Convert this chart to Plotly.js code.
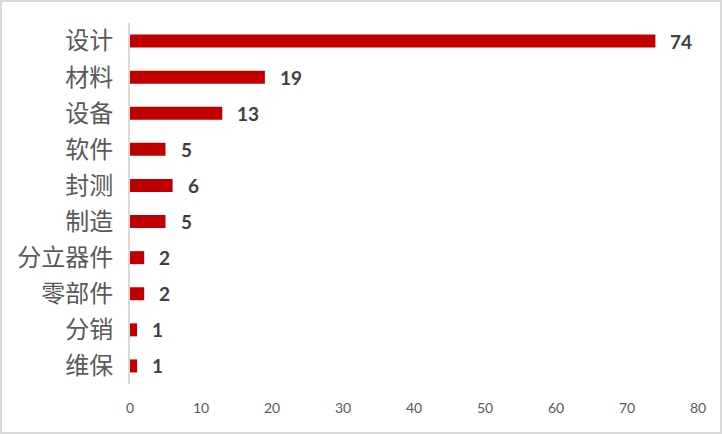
<!DOCTYPE html>
<html><head><meta charset="utf-8">
<script src="https://cdn.plot.ly/plotly-3.0.1.min.js"></script>
<style>
html,body{margin:0;padding:0;background:#fff;}
#wrap{width:722px;height:434px;box-sizing:border-box;border:2px solid #d9d9d9;overflow:hidden;}
#chart{width:718px;height:430px;}
</style></head>
<body><div id="wrap"><div id="chart"></div></div>
<script>
const categories = ["设计","材料","设备","软件","封测","制造","分立器件","零部件","分销","维保"];
const values = [74,19,13,5,6,5,2,2,1,1];
const xTicks = [0,10,20,30,40,50,60,70,80];

const trace = {
  type: "bar",
  orientation: "h",
  y: categories,
  x: values,
  marker: {color: "#C00000"},
  hoverinfo: "none"
};

const annotations = categories.map((c, i) => ({
  x: values[i], y: c, xref: "x", yref: "y",
  text: "<b>" + values[i] + "</b>",
  showarrow: false, xanchor: "left", xshift: 13,
  font: {family: "Lato, 'Liberation Sans', sans-serif", size: 19, color: "#404040"}
}));

const layout = {
  width: 718, height: 430,
  margin: {l: 128, r: 22, t: 21, b: 48},
  paper_bgcolor: "#fff", plot_bgcolor: "#fff",
  showlegend: false,
  bargap: 0.64,
  xaxis: {
    range: [0, 80], tickvals: xTicks, showgrid: false, zeroline: false,
    showline: false, ticks: "", ticklabelstandoff: 14,
    tickfont: {family: "Lato, 'Liberation Sans', sans-serif", size: 14, color: "#595959"},
    fixedrange: true
  },
  yaxis: {
    type: "category", autorange: "reversed", showgrid: false, zeroline: false,
    showline: true, linecolor: "#d9d9d9", linewidth: 2, ticks: "",
    ticklabelstandoff: 10,
    tickfont: {family: "'Noto Sans CJK SC', sans-serif", size: 24, color: "#595959"},
    fixedrange: true
  },
  annotations: annotations
};

Plotly.newPlot("chart", [trace], layout, {displayModeBar: false, staticPlot: true});
</script></body></html>
